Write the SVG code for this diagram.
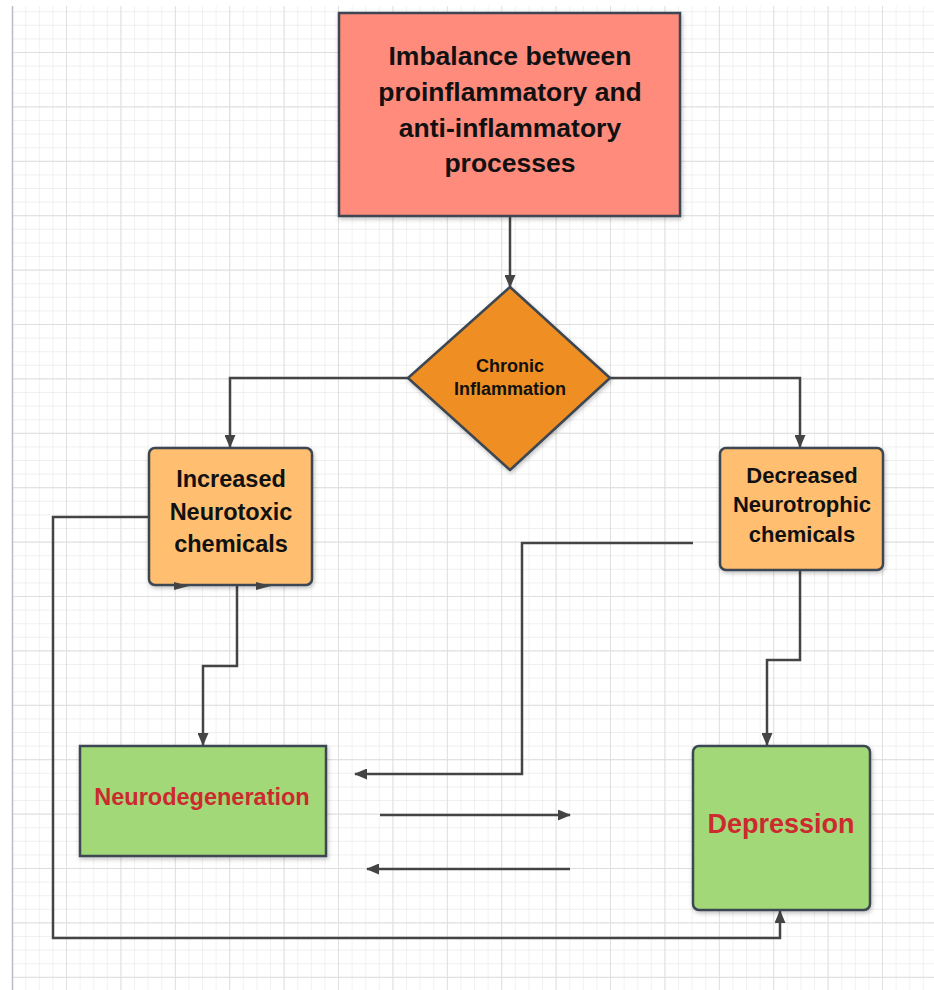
<svg xmlns="http://www.w3.org/2000/svg" width="934" height="990" viewBox="0 0 934 990">
  <defs>
    <pattern id="minor" x="12.6" y="-1.4" width="13.6" height="13.6" patternUnits="userSpaceOnUse">
      <path d="M13.6 0V13.6M0 13.6H13.6" fill="none" stroke="#eaeaea" stroke-width="1.3"/>
    </pattern>
    <pattern id="major" x="12.6" y="-1.4" width="54.4" height="54.4" patternUnits="userSpaceOnUse">
      <path d="M54.4 0V54.4M0 54.4H54.4" fill="none" stroke="#dedede" stroke-width="1.8"/>
    </pattern>
    <marker id="arr" markerWidth="13" markerHeight="11" refX="12" refY="5.5" orient="auto" markerUnits="userSpaceOnUse">
      <path d="M0 0L13 5.5L0 11Z" fill="#444"/>
    </marker>
    <filter id="sh" x="-10%" y="-10%" width="120%" height="125%">
      <feDropShadow dx="1" dy="2" stdDeviation="2" flood-color="#000" flood-opacity="0.25"/>
    </filter>
    <style>
      .node { stroke: #3d4752; stroke-width: 2.5; filter: url(#sh); }
      .t { font-family: "Liberation Sans", Arial, sans-serif; font-weight: bold; text-anchor: middle; fill: #111; }
      .r { fill: #cc2a2f; }
      .c { fill: none; stroke: #444; stroke-width: 2.5; }
    </style>
  </defs>
  <rect width="934" height="990" fill="#fff"/>
  <rect x="12" y="6" width="922" height="984" fill="url(#minor)"/>
  <rect x="12" y="6" width="922" height="984" fill="url(#major)"/>
  <line x1="12.5" y1="6" x2="12.5" y2="990" stroke="#b8bcc4" stroke-width="1.5"/>

  <g id="connectors">
    <path class="c" d="M510 216V287" marker-end="url(#arr)"/>
    <path class="c" d="M408 378H230V447" marker-end="url(#arr)"/>
    <path class="c" d="M610 378H800V447" marker-end="url(#arr)"/>
    <path class="c" d="M237 586V666H203V745" marker-end="url(#arr)"/>
    <path class="c" d="M149 517H53V938H780V911" marker-end="url(#arr)"/>
    <path class="c" d="M800 570V660H767V745" marker-end="url(#arr)"/>
    <path class="c" d="M693 543H522V774H355" marker-end="url(#arr)"/>
    <path class="c" d="M380 815H570" marker-end="url(#arr)"/>
    <path class="c" d="M570 869H367" marker-end="url(#arr)"/>
  </g>

  <g id="node-imbalance">
    <rect class="node" x="339" y="13" width="341" height="203" fill="#ff8b7d"/>
    <text class="t" font-size="26.5" x="510" y="65">Imbalance between</text>
    <text class="t" font-size="26.5" x="510" y="101">proinflammatory and</text>
    <text class="t" font-size="26.5" x="510" y="137">anti-inflammatory</text>
    <text class="t" font-size="26.5" x="510" y="172">processes</text>
  </g>

  <g id="node-chronic">
    <path class="node" d="M510 287L610 378L510 470L408 378Z" fill="#ef8e22" stroke-linejoin="round"/>
    <text class="t" font-size="18" x="510" y="372">Chronic</text>
    <text class="t" font-size="18" x="510" y="395">Inflammation</text>
  </g>

  <g id="node-neurotoxic">
    <rect class="node" x="149" y="448" width="163" height="137" rx="6" fill="#ffbe6f"/>
    <text class="t" font-size="23.5" x="231" y="487">Increased</text>
    <text class="t" font-size="23.5" x="231" y="520">Neurotoxic</text>
    <text class="t" font-size="23.5" x="231" y="552">chemicals</text>
    <path d="M174 582L189 586L174 590Z" fill="#444"/>
    <path d="M256 582L271 586L256 590Z" fill="#444"/>
  </g>

  <g id="node-neurotrophic">
    <rect class="node" x="720" y="448" width="163" height="122" rx="6" fill="#ffbe6f"/>
    <text class="t" font-size="22" x="802" y="483">Decreased</text>
    <text class="t" font-size="22" x="802" y="512">Neurotrophic</text>
    <text class="t" font-size="22" x="802" y="542">chemicals</text>
  </g>

  <g id="node-neurodegeneration">
    <rect class="node" x="80" y="746" width="246" height="110" fill="#a2d877"/>
    <text class="t r" font-size="23.5" x="202" y="805">Neurodegeneration</text>
  </g>

  <g id="node-depression">
    <rect class="node" x="693" y="746" width="177" height="164" rx="6" fill="#a2d877"/>
    <text class="t r" font-size="27" x="781" y="833">Depression</text>
  </g>
</svg>
